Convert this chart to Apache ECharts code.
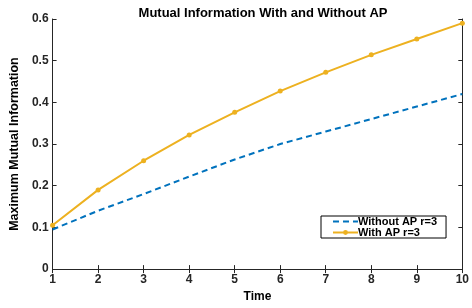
<!DOCTYPE html>
<html><head><meta charset="utf-8">
<script src="https://cdn.jsdelivr.net/npm/echarts@6/dist/echarts.min.js"></script>
<style>html,body{margin:0;padding:0;background:#fff}#c{width:472px;height:308px}</style>
</head><body><div id="c"></div>
<script>
const times = [1,2,3,4,5,6,7,8,9,10];
const withoutAP = [0.095,0.14,0.18,0.222,0.263,0.30,0.33,0.36,0.39,0.42];
const withAP = [0.105,0.19,0.26,0.322,0.376,0.427,0.472,0.514,0.552,0.59];
const yTicks = [0,0.1,0.2,0.3,0.4,0.5,0.6];

const font = 'Liberation Sans';
const chart = echarts.init(document.getElementById('c'));
const axLine = {show:true, lineStyle:{color:'#262626', width:1}};
const axTick = {show:true, inside:true, length:4, lineStyle:{color:'#262626'}};
chart.setOption({
  animation:false,
  title:{text:'Mutual Information With and Without AP', left:258, top:2, textAlign:'center',
    textStyle:{fontFamily:font, fontSize:13, fontWeight:'bold', color:'#000'}},
  grid:{left:50, right:7, top:19, bottom:32},
  legend:{orient:'vertical', left:321, top:216, padding:[0,9,0,11], itemGap:0, itemWidth:25, itemHeight:6,
    borderColor:'#000', borderWidth:1, backgroundColor:'#fff',
    textStyle:{fontFamily:font, fontSize:11, lineHeight:11, fontWeight:'bold', color:'#000', padding:[0,0,0,-5]},
    data:[{name:'Without AP r=3', itemStyle:{color:'rgba(0,0,0,0)', borderWidth:0, opacity:0}},{name:'With AP r=3'}]},
  xAxis:[{type:'value', min:1, max:10, interval:1, axisLine:axLine, axisTick:axTick, splitLine:{show:false},
    axisLabel:{fontFamily:font, fontSize:12, fontWeight:'bold', color:'#262626', margin:5},
    name:'Time', nameLocation:'middle', nameGap:17,
    nameTextStyle:{fontFamily:font, fontSize:12, fontWeight:'bold', color:'#000'}},
    {type:'value', position:'top', min:1, max:10, interval:1, axisLine:axLine, axisTick:axTick,
    axisLabel:{show:false}, splitLine:{show:false}}],
  yAxis:[{type:'value', min:0, max:0.6, interval:0.1, axisLine:axLine, axisTick:axTick, splitLine:{show:false},
    axisLabel:{fontFamily:font, fontSize:12, fontWeight:'bold', color:'#262626', margin:4,
      formatter:v=>{const t=yTicks.find(x=>Math.abs(x-v)<1e-9);return t===0?'0':String(t);}},
    name:'Maximum Mutual Information', nameLocation:'middle', nameGap:30,
    nameTextStyle:{fontFamily:font, fontSize:12.5, fontWeight:'bold', color:'#000'}},
    {type:'value', position:'right', min:0, max:0.6, interval:0.1, axisLine:axLine, axisTick:axTick,
    axisLabel:{show:false}, splitLine:{show:false}}],
  series:[
    {name:'Without AP r=3', type:'line', data:times.map((t,i)=>[t,withoutAP[i]]), symbol:'none',
      color:'#0072BD', lineStyle:{color:'#0072BD', width:2, type:[6,4]}},
    {name:'With AP r=3', type:'line', data:times.map((t,i)=>[t,withAP[i]]), symbol:'circle', symbolSize:5,
      color:'#EDB120', itemStyle:{color:'#EDB120'}, lineStyle:{color:'#EDB120', width:2}}
  ]
});
</script></body></html>
